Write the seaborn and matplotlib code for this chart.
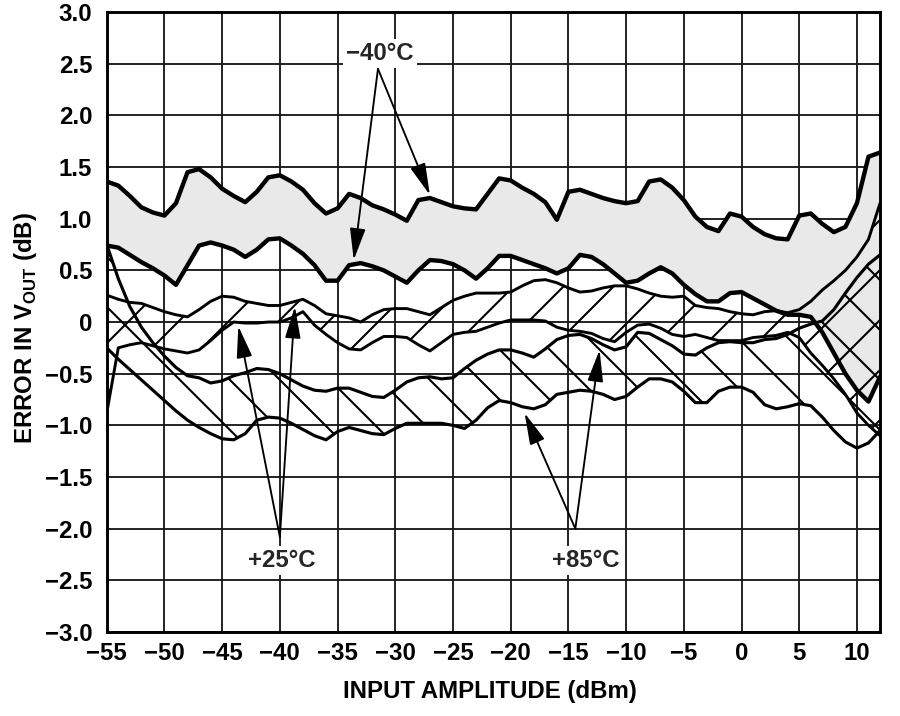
import numpy as np
import pandas as pd
import matplotlib
matplotlib.use('Agg')
import matplotlib.pyplot as plt
import seaborn as sns

# input amplitude grid (dBm), 1 dB steps
x_dbm = list(range(-55, 13))

# -40 C band
m40_hi = [1.36, 1.32, 1.22, 1.11, 1.06, 1.03, 1.15, 1.45, 1.48, 1.40,
          1.29, 1.22, 1.16, 1.26, 1.40, 1.42, 1.36, 1.28, 1.15, 1.05,
          1.10, 1.24, 1.20, 1.13, 1.09, 1.04, 0.98, 1.18, 1.20, 1.16,
          1.12, 1.10, 1.09, 1.24, 1.39, 1.37, 1.30, 1.24, 1.16, 0.99,
          1.26, 1.28, 1.24, 1.20, 1.17, 1.15, 1.17, 1.36, 1.38, 1.30,
          1.18, 1.02, 0.92, 0.88, 1.05, 1.02, 0.92, 0.85, 0.81, 0.80,
          1.03, 1.05, 0.95, 0.87, 0.92, 1.15, 1.60, 1.64]
m40_lo = [0.74, 0.72, 0.65, 0.58, 0.52, 0.45, 0.36, 0.55, 0.74, 0.77,
          0.74, 0.70, 0.63, 0.70, 0.80, 0.81, 0.74, 0.66, 0.55, 0.40,
          0.40, 0.55, 0.57, 0.54, 0.50, 0.44, 0.38, 0.50, 0.60, 0.59,
          0.56, 0.50, 0.42, 0.52, 0.64, 0.64, 0.60, 0.56, 0.52, 0.47,
          0.52, 0.65, 0.63, 0.56, 0.47, 0.38, 0.40, 0.47, 0.53, 0.47,
          0.36, 0.27, 0.20, 0.20, 0.28, 0.29, 0.23, 0.17, 0.11, 0.07,
          0.07, 0.05, -0.10, -0.30, -0.50, -0.66, -0.77, -0.53]

# +25 C band
p25_hi = [0.26, 0.22, 0.19, 0.18, 0.14, 0.10, 0.07, 0.05, 0.12, 0.20,
          0.25, 0.24, 0.20, 0.18, 0.16, 0.16, 0.19, 0.22, 0.16, 0.08,
          0.06, 0.04, 0.00, 0.07, 0.12, 0.13, 0.13, 0.10, 0.07, 0.14,
          0.21, 0.25, 0.28, 0.28, 0.28, 0.29, 0.35, 0.40, 0.41, 0.38,
          0.33, 0.29, 0.30, 0.33, 0.35, 0.35, 0.32, 0.28, 0.25, 0.24,
          0.25, 0.16, 0.14, 0.13, 0.10, 0.08, 0.07, 0.10, 0.11, 0.09,
          0.12, 0.20, 0.31, 0.40, 0.50, 0.63, 0.80, 1.15]
p25_lo = [-0.88, -0.25, -0.22, -0.20, -0.23, -0.26, -0.28, -0.30, -0.27, -0.18,
          -0.08, 0.00, -0.01, -0.01, 0.00, 0.00, 0.04, 0.10, -0.03, -0.12,
          -0.20, -0.26, -0.27, -0.20, -0.14, -0.14, -0.15, -0.22, -0.28, -0.20,
          -0.12, -0.10, -0.09, -0.05, -0.01, 0.02, 0.02, 0.02, 0.01, -0.05,
          -0.08, -0.09, -0.11, -0.16, -0.19, -0.10, -0.03, -0.02, -0.06, -0.12,
          -0.14, -0.12, -0.15, -0.18, -0.18, -0.18, -0.15, -0.14, -0.13, -0.10,
          -0.15, -0.30, -0.42, -0.55, -0.70, -0.88, -1.00, -1.10]

# +85 C band
p85_hi = [0.75, 0.42, 0.15, -0.05, -0.20, -0.33, -0.44, -0.52, -0.54, -0.59,
          -0.57, -0.52, -0.49, -0.45, -0.46, -0.50, -0.56, -0.62, -0.66, -0.67,
          -0.64, -0.64, -0.68, -0.72, -0.73, -0.66, -0.58, -0.54, -0.53, -0.55,
          -0.54, -0.45, -0.37, -0.31, -0.27, -0.27, -0.30, -0.34, -0.26, -0.17,
          -0.13, -0.12, -0.16, -0.22, -0.27, -0.24, -0.10, -0.11, -0.17, -0.23,
          -0.31, -0.32, -0.25, -0.20, -0.19, -0.20, -0.20, -0.17, -0.16, -0.12,
          -0.06, -0.02, 0.01, 0.12, 0.28, 0.43, 0.56, 0.65]
p85_lo = [-0.25, -0.36, -0.46, -0.56, -0.66, -0.76, -0.86, -0.95, -1.02, -1.08,
          -1.13, -1.14, -1.08, -0.95, -0.92, -0.93, -0.98, -1.04, -1.10, -1.14,
          -1.06, -1.02, -1.05, -1.08, -1.09, -1.03, -0.98, -0.98, -0.98, -0.98,
          -1.00, -1.03, -0.95, -0.83, -0.76, -0.78, -0.82, -0.84, -0.80, -0.70,
          -0.68, -0.66, -0.67, -0.70, -0.75, -0.72, -0.63, -0.55, -0.55, -0.58,
          -0.67, -0.78, -0.78, -0.67, -0.63, -0.63, -0.68, -0.80, -0.84, -0.82,
          -0.79, -0.81, -0.92, -1.05, -1.16, -1.22, -1.17, -1.05]

xticks = list(range(-55, 11, 5))
yticks = [3.0, 2.5, 2.0, 1.5, 1.0, 0.5, 0.0, -0.5, -1.0, -1.5, -2.0, -2.5, -3.0]
ytick_labels = ['3.0', '2.5', '2.0', '1.5', '1.0', '0.5', '0', '\u22120.5', '\u22121.0',
                '\u22121.5', '\u22122.0', '\u22122.5', '\u22123.0']

sns.set_theme(style='white')
plt.rcParams['font.family'] = ['Liberation Sans', 'DejaVu Sans']
plt.rcParams['font.weight'] = 'bold'
plt.rcParams['mathtext.fontset'] = 'custom'
plt.rcParams['mathtext.bf'] = 'Liberation Sans:bold'
plt.rcParams['mathtext.rm'] = 'Liberation Sans:bold'
plt.rcParams['hatch.linewidth'] = 1.0
plt.rcParams['hatch.color'] = 'black'

fig = plt.figure(figsize=(6, 716 / 150), dpi=150)
ax = fig.add_axes([0.1186, 0.1173, 0.8592, 0.8659])

# bands
ax.fill_between(x_dbm, m40_lo, m40_hi, facecolor='#e9e9e9', edgecolor='none', zorder=1)
ax.fill_between(x_dbm, p25_lo, p25_hi, facecolor='none', edgecolor='black',
                hatch='/', linewidth=0, zorder=2)
ax.fill_between(x_dbm, p85_lo, p85_hi, facecolor='none', edgecolor='black',
                hatch='\\', linewidth=0, zorder=2)

curves = pd.DataFrame({'x': x_dbm * 6,
                       'y': m40_hi + m40_lo + p25_hi + p25_lo + p85_hi + p85_lo,
                       'curve': (['m40_hi'] * 68 + ['m40_lo'] * 68 + ['p25_hi'] * 68
                                 + ['p25_lo'] * 68 + ['p85_hi'] * 68 + ['p85_lo'] * 68)})
widths = {'m40_hi': 2.1, 'm40_lo': 2.1, 'p25_hi': 1.4, 'p25_lo': 1.4,
          'p85_hi': 1.5, 'p85_lo': 1.5}
for name, grp in curves.groupby('curve'):
    sns.lineplot(data=grp, x='x', y='y', ax=ax, color='black', lw=widths[name],
                 estimator=None, sort=False, zorder=4, solid_joinstyle='round',
                 solid_capstyle='round')

ax.set_xlim(-55, 12)
ax.set_ylim(-3, 3)
ax.set_xticks(xticks)
ax.set_xticklabels([str(v).replace('-', '\u2212') for v in xticks])
ax.set_yticks(yticks)
ax.set_yticklabels(ytick_labels)
ax.grid(True, color='#1a1a1a', lw=0.9, zorder=0)
ax.set_axisbelow(True)
ax.tick_params(length=0, labelsize=11.5, colors='black')
ax.tick_params(axis='x', pad=5)
ax.tick_params(axis='y', pad=7)
for lab in ax.get_xticklabels() + ax.get_yticklabels():
    lab.set_fontweight('bold')
for s in ax.spines.values():
    s.set_color('black')
    s.set_linewidth(1.4)
    s.set_zorder(5)

ax.set_xlabel('INPUT AMPLITUDE (dBm)', fontsize=11.5, fontweight='bold', color='black')
ax.set_ylabel(r'ERROR IN V$_{\mathbf{OUT}}$ (dB)', fontsize=11.5, fontweight='bold',
              color='black')
ax.xaxis.set_label_coords(0.496, -0.078)
ax.yaxis.set_label_coords(-0.088, 0.49)

arrow = dict(arrowstyle='-|>,head_length=0.65,head_width=0.16', color='black',
             lw=0.9, shrinkA=0, shrinkB=0, mutation_scale=20)
box = dict(facecolor='white', edgecolor='none', pad=1.5)

# -40 C
ax.text(-31.3, 2.6, '\u221240\u00b0C', ha='center', va='center', fontsize=11.5,
        fontweight='bold', bbox=box, zorder=6)
for tip in [(-33.6, 0.60), (-27.0, 1.23)]:
    ax.annotate('', xy=tip, xytext=(-31.5, 2.45), arrowprops=arrow, zorder=6)

# +25 C
ax.text(-39.8, -2.31, '+25\u00b0C', ha='center', va='center', fontsize=11.5,
        fontweight='bold', bbox=box, zorder=6)
for tip in [(-43.6, -0.04), (-38.7, 0.15)]:
    ax.annotate('', xy=tip, xytext=(-40.0, -2.08), arrowprops=arrow, zorder=6)

# +85 C
ax.text(-13.5, -2.31, '+85\u00b0C', ha='center', va='center', fontsize=11.5,
        fontweight='bold', bbox=box, zorder=6)
for tip in [(-18.8, -0.88), (-12.3, -0.27)]:
    ax.annotate('', xy=tip, xytext=(-14.4, -2.0), arrowprops=arrow, zorder=6)

fig.savefig('out.png', dpi=150)
